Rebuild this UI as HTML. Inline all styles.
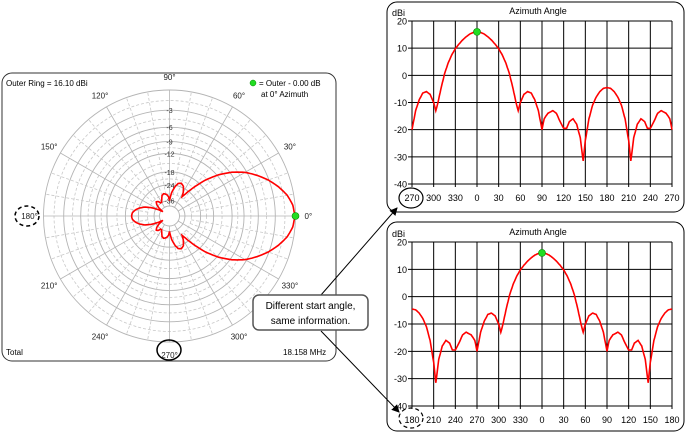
<!DOCTYPE html>
<html><head><meta charset="utf-8">
<style>
html,body{margin:0;padding:0;background:#fff;}
svg{display:block;font-family:"Liberation Sans",sans-serif;}
</style></head>
<body>
<svg id="s" width="686" height="433" viewBox="0 0 686 433" xmlns="http://www.w3.org/2000/svg">
<defs>
<marker id="ar" markerWidth="8" markerHeight="8" refX="7" refY="4" orient="auto" markerUnits="userSpaceOnUse"><path d="M0,0 L8,4 L0,8 z" fill="#000"/></marker>
</defs>
<!-- left panel -->
<rect x="2" y="73" width="334" height="288" rx="10" fill="#fff" stroke="#333" stroke-width="1"/>
<g id="polar"></g>
<text x="6" y="86" font-size="8" fill="#000">Outer Ring = 16.10 dBi</text>
<circle cx="253" cy="83" r="3" fill="#22dd22" stroke="#080" stroke-width="0.5"/>
<text x="259" y="86" font-size="8">= Outer - 0.00 dB</text>
<text x="261" y="97" font-size="8">at 0° Azimuth</text>
<text x="6" y="355" font-size="8">Total</text>
<text x="283" y="355" font-size="8">18.158 MHz</text>
<ellipse cx="27" cy="216" rx="12" ry="10" fill="none" stroke="#000" stroke-width="1.5" stroke-dasharray="4,3"/>
<ellipse cx="169" cy="350" rx="12" ry="10" fill="none" stroke="#000" stroke-width="1.5"/>
<!-- right panels -->
<rect x="387" y="2" width="297" height="210" rx="10" fill="#fff" stroke="#000"/>
<rect x="387" y="222" width="297" height="209" rx="10" fill="#fff" stroke="#000"/>
<g id="rc"></g>
<ellipse cx="411" cy="198" rx="12" ry="10" fill="none" stroke="#000" stroke-width="1.2"/>
<ellipse cx="411" cy="418" rx="12" ry="10" fill="none" stroke="#000" stroke-width="1.2" stroke-dasharray="4,3"/>
<!-- callout -->
<line x1="321" y1="295" x2="397" y2="208" stroke="#000" marker-end="url(#ar)"/>
<line x1="321" y1="331" x2="399" y2="412" stroke="#000" marker-end="url(#ar)"/>
<rect x="253" y="295" width="115" height="35" rx="6" fill="#fff" stroke="#555" stroke-width="1.5"/>
<text x="310.5" y="309" font-size="10" text-anchor="middle">Different start angle,</text>
<text x="310.5" y="324" font-size="10" text-anchor="middle">same information.</text>
</svg>
<script>
var NS="http://www.w3.org/2000/svg";
function el(p,t,a,txt){var e=document.createElementNS(NS,t);for(var k in a)e.setAttribute(k,a[k]);if(txt!=null)e.textContent=txt;p.appendChild(e);return e;}
var pts=[[0,16],[5,15.8],[10,15.2],[15,14.2],[20,13],[25,11.5],[30,9.8],[35,7.5],[40,4.5],[45,0.5],[50,-5],[54,-10],[57,-13],[60,-10],[65,-7],[70,-6],[75,-6.5],[80,-9],[85,-13],[90,-20],[93,-16],[98,-14],[105,-13],[110,-14],[115,-17],[120,-19.5],[124,-19.5],[128,-17],[133,-16],[138,-18],[143,-23],[147,-31.5],[150,-24],[155,-16],[160,-11],[165,-8],[170,-6],[175,-4.8],[180,-4.5]];
function g(a){a=((a%360)+360)%360;if(a>180)a=360-a;for(var i=1;i<pts.length;i++){if(a<=pts[i][0]){var p=pts[i-1],q=pts[i];return p[1]+(q[1]-p[1])*(a-p[0])/(q[0]-p[0]);}}return -4.5;}
// polar
var P=document.getElementById("polar"),cx=169.5,cy=216,R=126;
function rr(rel){return R*Math.pow(0.89,-rel/2);}
var solid=[0,-3,-6,-9,-12,-18,-24,-36],dash=[-1.5,-4.5,-7.5,-10.5,-15,-21,-30];
dash.forEach(function(d){el(P,"circle",{cx:cx,cy:cy,r:rr(d),fill:"none",stroke:"#c8c8c8","stroke-dasharray":"3,2","stroke-width":0.8});});
solid.forEach(function(d){el(P,"circle",{cx:cx,cy:cy,r:rr(d),fill:"none",stroke:"#b4b4b4","stroke-width":0.9});});
el(P,"circle",{cx:cx,cy:cy,r:10,fill:"none",stroke:"#b4b4b4","stroke-width":0.9});
for(var a=0;a<360;a+=10){var t=a*Math.PI/180,r0=(a%30==0)?10:rr(-30),c=Math.cos(t),s=Math.sin(t);
el(P,"line",{x1:cx+r0*c,y1:cy-r0*s,x2:cx+R*c,y2:cy-R*s,stroke:a%30==0?"#b4b4b4":"#c8c8c8","stroke-width":0.8,"stroke-dasharray":a%30==0?"none":"3,2"});}
var lbl=[["-3",-3],["-6",-6],["-9",-9],["-12",-12],["-18",-18],["-24",-24],["-36",-36]];
lbl.forEach(function(l){el(P,"text",{x:cx,y:cy-rr(l[1])+3,"font-size":7,"text-anchor":"middle",fill:"#333"},l[0]);});
for(var a=0;a<360;a+=30){var t=a*Math.PI/180,rl=R+13;var x=cx+rl*Math.cos(t),y=cy-rl*Math.sin(t)+3;
if(a==0)x=cx+R+9; if(a==180)x=cx-R-14;
el(P,"text",{x:x,y:y,"font-size":8,"text-anchor":a==0?"start":"middle",fill:"#222"},a+"°");}
var d="";for(var a=0;a<=360;a+=1){var v=g(a)-16.1,r=rr(v),t=a*Math.PI/180;d+=(a?"L":"M")+(cx+r*Math.cos(t)).toFixed(1)+","+(cy-r*Math.sin(t)).toFixed(1);}
el(P,"path",{d:d+"Z",fill:"none",stroke:"#f00","stroke-width":1.6});
el(P,"circle",{cx:cx+R,cy:cy,r:3.5,fill:"#22dd22",stroke:"#080","stroke-width":0.6});
// rect charts
var RC=document.getElementById("rc");
function chart(y20,y40,start,labels){
 var x0=412,x1=672,dx=(x1-x0)/12,dy=(y40-y20)/6;
 el(RC,"text",{x:392,y:y20-5,"font-size":9},"dBi");
 el(RC,"text",{x:538,y:y20-7,"font-size":9,"text-anchor":"middle"},"Azimuth Angle");
 for(var i=0;i<=6;i++){var y=y20+i*dy;el(RC,"line",{x1:x0-4,y1:y,x2:x1,y2:y,stroke:"#000","stroke-width":1});
  el(RC,"text",{x:x0-5,y:y+3.5,"font-size":9,"text-anchor":"end"},String(20-10*i));}
 for(var i=0;i<=12;i++){var x=x0+i*dx;el(RC,"line",{x1:x,y1:y20,x2:x,y2:y40+3,stroke:"#000","stroke-width":1});
  el(RC,"text",{x:x,y:y40+17,"font-size":9,"text-anchor":"middle"},labels[i]);}
 var d="";for(var k=0;k<=360;k+=1){var a=start+k,v=g(a);var x=x0+k*dx/30,y=y20+(20-v)*dy/10;d+=(k?"L":"M")+x.toFixed(1)+","+y.toFixed(1);}
 el(RC,"path",{d:d,fill:"none",stroke:"#f00","stroke-width":1.6});
 var k0=((360-start)%360);el(RC,"circle",{cx:x0+k0*dx/30,cy:y20+(4)*dy/10,r:3.5,fill:"#22dd22",stroke:"#080","stroke-width":0.6});
}
chart(21,184,270,["270","300","330","0","30","60","90","120","150","180","210","240","270"]);
chart(242,406,180,["180","210","240","270","300","330","0","30","60","90","120","150","180"]);
</script>
</body></html>
